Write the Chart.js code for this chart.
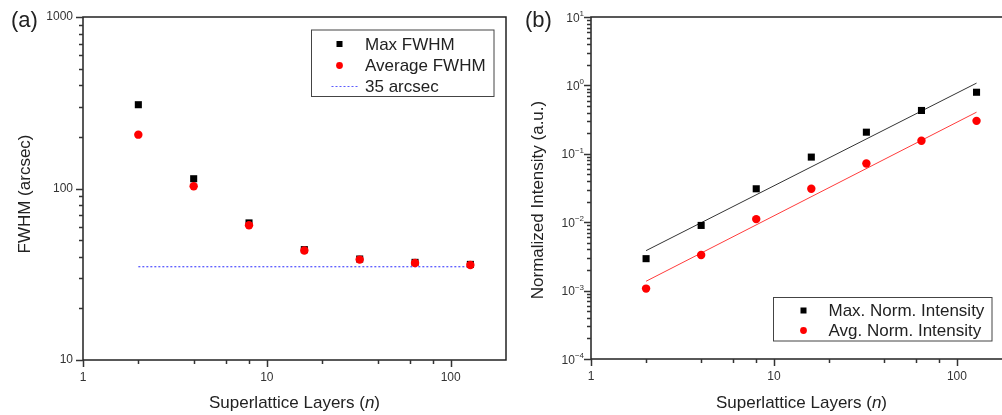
<!DOCTYPE html>
<html>
<head>
<meta charset="utf-8">
<script src="https://cdn.jsdelivr.net/npm/chart.js@4.4.1/dist/chart.umd.min.js"></script>
<style>
  html, body { margin: 0; padding: 0; background: #fff; overflow: hidden; width: 1002px; height: 415px; }
  #chartA { position: absolute; left: 0; top: 0; }
  #chartB { position: absolute; left: 495px; top: 0; }
</style>
</head>
<body>
<canvas id="chartA" width="520" height="415"></canvas>
<canvas id="chartB" width="525" height="415"></canvas>
<script>
// values
const LAYERS = [2, 4, 8, 16, 32, 64, 128];
const MAX_FWHM = [308, 114, 63, 44, 38.8, 37.1, 36.1];
const AVG_FWHM = [206, 103, 61, 43.5, 38.5, 36.8, 35.8];
const REF_X = [2, 128];
const REF_Y = [35, 35];

const MAX_NORM = [0.00293, 0.00897, 0.0308, 0.0895, 0.207, 0.43, 0.794];
const AVG_NORM = [0.00107, 0.00332, 0.0111, 0.0308, 0.0723, 0.155, 0.303];
const FIT_X = [2, 128];
const FIT_MAX = [0.00384, 1.08];
const FIT_AVG = [0.00137, 0.406];

// tick positions
const X_TICKS = [1, 2, 4, 6, 8, 10, 20, 40, 60, 80, 100];
const X_LABELS = [1, 10, 100];
const FWHM_TICKS = [10, 20, 30, 40, 50, 60, 70, 80, 90, 100, 200, 300, 400, 500, 600, 700, 800, 900, 1000];
const FWHM_LABELS = [10, 100, 1000];
const NORM_TICKS = [
  0.0001, 0.0002, 0.0003, 0.0004, 0.0005, 0.0006, 0.0007, 0.0008, 0.0009,
  0.001, 0.002, 0.003, 0.004, 0.005, 0.006, 0.007, 0.008, 0.009,
  0.01, 0.02, 0.03, 0.04, 0.05, 0.06, 0.07, 0.08, 0.09,
  0.1, 0.2, 0.3, 0.4, 0.5, 0.6, 0.7, 0.8, 0.9,
  1, 2, 3, 4, 5, 6, 7, 8, 9, 10
];
const NORM_LABELS = [0.0001, 0.001, 0.01, 0.1, 1, 10];

const FONT = "Liberation Sans, Arial, sans-serif";
const INK = "#222";

const pts = (xs, ys) => xs.map((x, i) => ({ x, y: ys[i] }));
const isLabel = (list, v) => list.some((l) => Math.abs(l - v) / l < 1e-6);

function logAxis(min, max, tickList, labelList, showLabels, fit) {
  return {
    type: "logarithmic",
    min,
    max,
    afterBuildTicks: (s) => { s.ticks = tickList.map((v) => ({ value: v })); },
    afterFit: fit,
    border: { display: false },
    grid: { display: true, drawOnChartArea: false, tickLength: 6, color: "rgba(0,0,0,0)", tickColor: "rgba(0,0,0,0)" },
    ticks: {
      autoSkip: false,
      maxRotation: 0,
      padding: 4,
      color: "#333",
      font: { family: FONT, size: 12 },
      callback: (v) => (showLabels && isLabel(labelList, v) ? String(v) : ""),
    },
  };
}

// frame, tick marks, titles and legend
function decorPlugin(cfg) {
  return {
    id: "decor",
    afterDraw(chart) {
      const { ctx, chartArea: a } = chart;
      const xs = chart.scales.x, ys = chart.scales.y;
      ctx.save();
      ctx.strokeStyle = INK;
      ctx.lineWidth = 1.5;
      ctx.strokeRect(a.left, a.top, a.right - a.left, a.bottom - a.top);

      ctx.lineWidth = 1.5;
      ctx.strokeStyle = "#333";
      X_TICKS.forEach((v) => {
        const px = Math.round(xs.getPixelForValue(v)) + 0.5;
        const len = isLabel(X_LABELS, v) ? 7 : 4;
        ctx.beginPath(); ctx.moveTo(px, a.bottom); ctx.lineTo(px, a.bottom + len); ctx.stroke();
      });
      cfg.yTicks.forEach((v) => {
        const py = Math.round(ys.getPixelForValue(v)) + 0.5;
        const len = isLabel(cfg.yLabels, v) ? 7 : 4;
        ctx.beginPath(); ctx.moveTo(a.left, py); ctx.lineTo(a.left - len, py); ctx.stroke();
      });

      // superscript tick labels
      if (cfg.powerLabels) {
        cfg.yLabels.forEach((v) => {
          const py = ys.getPixelForValue(v);
          const exp = Math.round(Math.log10(v));
          const expText = exp < 0 ? "\u2212" + (-exp) : String(exp);
          ctx.fillStyle = "#333";
          ctx.font = "8px " + FONT;
          const ew = ctx.measureText(expText).width;
          ctx.textAlign = "left";
          ctx.textBaseline = "alphabetic";
          const right = a.left - 7;
          ctx.fillText(expText, right - ew, py - 1);
          ctx.font = "12px " + FONT;
          ctx.textAlign = "right";
          ctx.fillText("10", right - ew, py + 4.5);
        });
      }

      // axis titles
      ctx.fillStyle = INK;
      ctx.font = "17px " + FONT;
      ctx.textBaseline = "middle";
      const cx = (a.left + a.right) / 2;
      const t1 = "Superlattice Layers (", t2 = "n", t3 = ")";
      const w1 = ctx.measureText(t1).width;
      ctx.font = "italic 17px " + FONT;
      const w2 = ctx.measureText(t2).width;
      ctx.font = "17px " + FONT;
      const w3 = ctx.measureText(t3).width;
      let sx = cx - (w1 + w2 + w3) / 2;
      ctx.textAlign = "left";
      ctx.fillText(t1, sx, 403);
      ctx.font = "italic 17px " + FONT;
      ctx.fillText(t2, sx + w1, 403);
      ctx.font = "17px " + FONT;
      ctx.fillText(t3, sx + w1 + w2, 403);

      ctx.save();
      ctx.translate(cfg.yTitleX, cfg.yTitleY);
      ctx.rotate(-Math.PI / 2);
      ctx.textAlign = "center";
      ctx.fillText(cfg.yTitle, 0, 0);
      ctx.restore();

      // panel letter
      ctx.font = "22px " + FONT;
      ctx.textAlign = "left";
      ctx.fillText(cfg.panel, cfg.panelX, 21);

      // legend
      const L = cfg.legend;
      ctx.lineWidth = 1;
      ctx.strokeStyle = "#444";
      ctx.strokeRect(L.x, L.y, L.w, L.h);
      ctx.font = "17px " + FONT;
      L.items.forEach((it, i) => {
        const ds = chart.data.datasets[it.ds];
        const y = L.rowY[i];
        if (it.kind === "rect") {
          ctx.fillStyle = ds.backgroundColor;
          ctx.fillRect(L.symX - 3, y - 3, 6, 6);
        } else if (it.kind === "circle") {
          ctx.fillStyle = ds.backgroundColor;
          ctx.beginPath(); ctx.arc(L.symX, y, 3.4, 0, Math.PI * 2); ctx.fill();
        } else {
          ctx.strokeStyle = ds.borderColor;
          ctx.setLineDash(ds.borderDash || []);
          ctx.beginPath(); ctx.moveTo(L.symX - 8, y); ctx.lineTo(L.symX + 18, y); ctx.stroke();
          ctx.setLineDash([]);
        }
        ctx.fillStyle = INK;
        ctx.textAlign = "left";
        ctx.fillText(it.text, L.textX, y + 1);
      });
      ctx.restore();
    },
  };
}

const common = {
  responsive: false,
  animation: false,
  events: [],
  plugins: { legend: { display: false }, tooltip: { enabled: false } },
};

new Chart(document.getElementById("chartA"), {
  type: "scatter",
  data: {
    datasets: [
      { label: "Max FWHM", data: pts(LAYERS, MAX_FWHM), pointStyle: "rect", pointRadius: 5, borderWidth: 0, backgroundColor: "#000", order: 1 },
      { label: "Average FWHM", data: pts(LAYERS, AVG_FWHM), pointStyle: "circle", pointRadius: 4.2, borderWidth: 0, backgroundColor: "#ff0000", order: 0 },
      { label: "35 arcsec", data: pts(REF_X, REF_Y), showLine: true, pointRadius: 0, borderColor: "#5b5bff", borderWidth: 1.3, borderDash: [2, 2], order: 2 },
    ],
  },
  options: {
    ...common,
    layout: { padding: { top: 17, right: 14, left: 0, bottom: 0 } },
    scales: {
      x: logAxis(1, 200, X_TICKS, X_LABELS, true, (s) => { s.height = 55; }),
      y: logAxis(10, 1000, FWHM_TICKS, FWHM_LABELS, true, (s) => { s.width = 83; }),
    },
  },
  plugins: [decorPlugin({
    yTicks: FWHM_TICKS, yLabels: FWHM_LABELS, powerLabels: false,
    yTitle: "FWHM (arcsec)", yTitleX: 25, yTitleY: 194,
    panel: "(a)", panelX: 11,
    legend: {
      x: 311.5, y: 30, w: 182.5, h: 66.5, symX: 339.5, textX: 365,
      rowY: [44, 65.5, 86.5],
      items: [
        { ds: 0, kind: "rect", text: "Max FWHM" },
        { ds: 1, kind: "circle", text: "Average FWHM" },
        { ds: 2, kind: "line", text: "35 arcsec" },
      ],
    },
  })],
});

new Chart(document.getElementById("chartB"), {
  type: "scatter",
  data: {
    datasets: [
      { label: "Max. Norm. Intensity", data: pts(LAYERS, MAX_NORM), pointStyle: "rect", pointRadius: 5, borderWidth: 0, backgroundColor: "#000", order: 1 },
      { label: "Avg. Norm. Intensity", data: pts(LAYERS, AVG_NORM), pointStyle: "circle", pointRadius: 4.2, borderWidth: 0, backgroundColor: "#ff0000", order: 0 },
      { label: "fit max", data: pts(FIT_X, FIT_MAX), showLine: true, pointRadius: 0, borderColor: "#333", borderWidth: 1, order: 2 },
      { label: "fit avg", data: pts(FIT_X, FIT_AVG), showLine: true, pointRadius: 0, borderColor: "#ff3b3b", borderWidth: 1, order: 2 },
    ],
  },
  options: {
    ...common,
    layout: { padding: { top: 17, right: 8, left: 0, bottom: 0 } },
    scales: {
      x: logAxis(1, 200, X_TICKS, X_LABELS, true, (s) => { s.height = 56; }),
      y: logAxis(0.0001, 10, NORM_TICKS, NORM_LABELS, false, (s) => { s.width = 96; }),
    },
  },
  plugins: [decorPlugin({
    yTicks: NORM_TICKS, yLabels: NORM_LABELS, powerLabels: true,
    yTitle: "Normalized Intensity (a.u.)", yTitleX: 43, yTitleY: 200,
    panel: "(b)", panelX: 30,
    legend: {
      x: 278.5, y: 297.5, w: 218.5, h: 43.5, symX: 308.5, textX: 333.5,
      rowY: [310.5, 330.5],
      items: [
        { ds: 0, kind: "rect", text: "Max. Norm. Intensity" },
        { ds: 1, kind: "circle", text: "Avg. Norm. Intensity" },
      ],
    },
  })],
});
</script>
</body>
</html>
